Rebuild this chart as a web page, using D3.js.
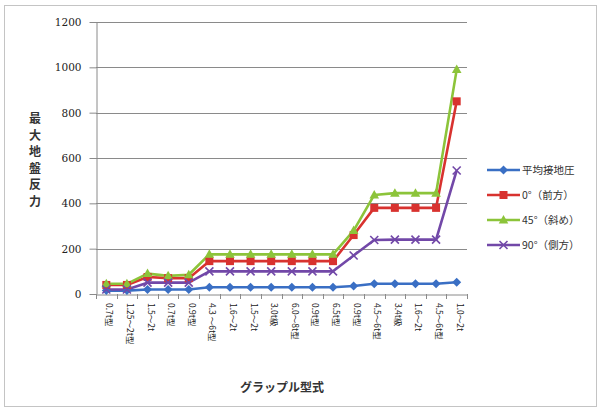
<!DOCTYPE html>
<html>
<head>
<meta charset="utf-8">
<script src="https://cdn.jsdelivr.net/npm/d3@7"></script>
<style>
  html, body { margin: 0; padding: 0; background: #fff; }
  svg { display: block; }
</style>
</head>
<body>
<svg id="chart" width="602" height="412"></svg>
<script>
// Grapple models along the x axis
const categories = [
  "0.7t型", "1.25〜2t型", "1.5〜2t", "0.7t型", "0.9t型", "4.3 〜6t型",
  "1.6〜2t", "1.5〜2t", "3.0t級", "6.0〜8t型", "0.9t型", "6.5t型",
  "0.9t型", "4.5〜6t型", "3.4t級", "1.6〜2t", "4.5〜6t型", "1.0〜2t"
];

// Series values (maximum ground reaction force)
const avgPressure = [15, 15, 20, 20, 20, 30, 30, 30, 30, 30, 30, 30, 35, 45, 45, 45, 45, 52];
const front0      = [40, 40, 75, 70, 70, 145, 145, 145, 145, 145, 145, 145, 260, 380, 380, 380, 380, 850];
const diag45      = [45, 45, 90, 80, 85, 175, 175, 175, 175, 175, 175, 175, 280, 437, 445, 445, 445, 990];
const side90      = [20, 20, 50, 50, 50, 100, 100, 100, 100, 100, 100, 100, 170, 238, 240, 240, 240, 545];

const seriesNames = ["平均接地圧", "0°（前方）", "45°（斜め）", "90°（側方）"];
const yTicks = [0, 200, 400, 600, 800, 1000, 1200];

const series = [
  { name: seriesNames[0], values: avgPressure, color: "#3a6fc4", marker: "diamond" },
  { name: seriesNames[1], values: front0,      color: "#d8322f", marker: "square" },
  { name: seriesNames[2], values: diag45,      color: "#8cc43a", marker: "triangle" },
  { name: seriesNames[3], values: side90,      color: "#7248a8", marker: "cross" }
];

const svg = d3.select("#chart");
const cjk = "'Noto Sans CJK JP', 'Noto Sans', sans-serif";

// Outer chart frame
svg.append("rect")
  .attr("x", 4.5).attr("y", 5.5).attr("width", 592).attr("height", 401)
  .attr("fill", "#fff").attr("stroke", "#c4c4c4").attr("stroke-width", 1);

const plot = { left: 96, right: 467, top: 22, bottom: 294 };

const x = d3.scaleBand()
  .domain(d3.range(categories.length))
  .range([plot.left, plot.right])
  .padding(0);

const y = d3.scaleLinear()
  .domain([0, 1200])
  .range([plot.bottom, plot.top]);

const cx = i => x(i) + x.bandwidth() / 2;

// Horizontal gridlines
svg.append("g")
  .selectAll("line")
  .data(yTicks.filter(t => t > 0))
  .join("line")
  .attr("x1", plot.left).attr("x2", plot.right)
  .attr("y1", d => Math.round(y(d)) + 0.5).attr("y2", d => Math.round(y(d)) + 0.5)
  .attr("stroke", "#8a8a8a").attr("stroke-width", 1);

// Y axis
const yAxis = svg.append("g")
  .attr("transform", `translate(${plot.left + 0.5},0)`)
  .call(d3.axisLeft(y).tickValues(yTicks).tickFormat(d3.format("d"))
    .tickSize(7).tickPadding(8).tickSizeOuter(0));
yAxis.select(".domain").attr("stroke", "#8a8a8a");
yAxis.selectAll(".tick line").attr("stroke", "#8a8a8a");
yAxis.selectAll(".tick text")
  .attr("font-family", "'DejaVu Serif', serif")
  .attr("font-size", 10.5)
  .attr("fill", "#222");

// X axis
const xAxis = svg.append("g")
  .attr("transform", `translate(0,${plot.bottom + 0.5})`)
  .call(d3.axisBottom(x).tickSize(0).tickFormat(""));
xAxis.select(".domain").attr("stroke", "#8a8a8a");

// Tick marks between categories
svg.append("g")
  .selectAll("line")
  .data(d3.range(categories.length + 1))
  .join("line")
  .attr("x1", i => Math.round(plot.left + i * x.bandwidth()) + 0.5)
  .attr("x2", i => Math.round(plot.left + i * x.bandwidth()) + 0.5)
  .attr("y1", plot.bottom).attr("y2", plot.bottom + 5)
  .attr("stroke", "#8a8a8a");

// Category labels, rotated to read top to bottom
svg.append("g")
  .selectAll("text")
  .data(categories)
  .join("text")
  .attr("transform", (d, i) => `translate(${cx(i) + 3},303) rotate(90)`)
  .attr("dy", "0.35em")
  .attr("font-family", cjk)
  .attr("font-size", 8.5)
  .attr("fill", "#222")
  .text(d => d);

// Series lines
const line = d3.line()
  .x((d, i) => cx(i))
  .y(d => y(d));

series.forEach(s => {
  svg.append("path")
    .datum(s.values)
    .attr("fill", "none")
    .attr("stroke", s.color)
    .attr("stroke-width", 2.6)
    .attr("stroke-linejoin", "round")
    .attr("d", line);
});

// Marker shapes
function drawMarker(g, type, color, px, py) {
  if (type === "diamond") {
    g.append("path")
      .attr("d", `M${px},${py - 4.5}L${px + 4.5},${py}L${px},${py + 4.5}L${px - 4.5},${py}Z`)
      .attr("fill", color);
  } else if (type === "square") {
    g.append("rect")
      .attr("x", px - 4).attr("y", py - 4).attr("width", 8).attr("height", 8)
      .attr("fill", color);
  } else if (type === "triangle") {
    g.append("path")
      .attr("d", `M${px},${py - 5}L${px + 4.8},${py + 3.5}L${px - 4.8},${py + 3.5}Z`)
      .attr("fill", color);
  } else {
    g.append("path")
      .attr("d", `M${px - 4},${py - 4}L${px + 4},${py + 4}M${px - 4},${py + 4}L${px + 4},${py - 4}`)
      .attr("stroke", color).attr("stroke-width", 1.6).attr("fill", "none");
  }
}

series.forEach(s => {
  const g = svg.append("g");
  s.values.forEach((v, i) => drawMarker(g, s.marker, s.color, cx(i), y(v)));
});

// Axis titles
const yTitle = "最大地盤反力";
svg.append("g")
  .selectAll("text")
  .data(Array.from(yTitle))
  .join("text")
  .attr("x", 35)
  .attr("y", (d, i) => 123 + i * 16.5)
  .attr("text-anchor", "middle")
  .attr("font-family", cjk)
  .attr("font-size", 12)
  .attr("font-weight", "bold")
  .attr("fill", "#333")
  .text(d => d);

svg.append("text")
  .attr("x", 282).attr("y", 392)
  .attr("text-anchor", "middle")
  .attr("font-family", cjk)
  .attr("font-size", 12)
  .attr("font-weight", "bold")
  .attr("fill", "#333")
  .text("グラップル型式");

// Legend
const legend = svg.append("g");
series.forEach((s, i) => {
  const ly = 170 + i * 25;
  legend.append("line")
    .attr("x1", 487).attr("x2", 520)
    .attr("y1", ly).attr("y2", ly)
    .attr("stroke", s.color).attr("stroke-width", 2.6);
  drawMarker(legend, s.marker, s.color, 503.5, ly);
  legend.append("text")
    .attr("x", 522).attr("y", ly)
    .attr("dy", "0.35em")
    .attr("font-family", cjk)
    .attr("font-size", 10.5)
    .attr("fill", "#333")
    .text(s.name);
});
</script>
</body>
</html>
